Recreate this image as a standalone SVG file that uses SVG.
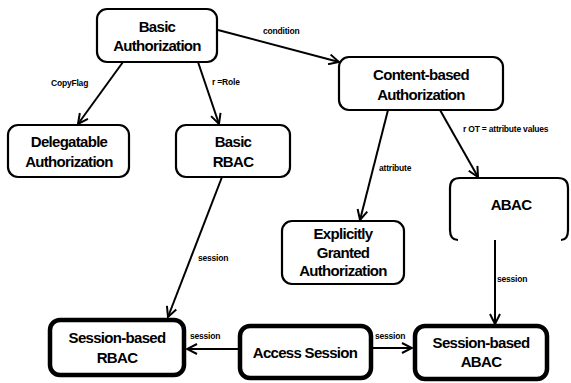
<svg xmlns="http://www.w3.org/2000/svg" width="571" height="383" viewBox="0 0 571 383">
<style>
.box{fill:#fff;stroke:#000;stroke-width:2.2}
.thick{fill:#fff;stroke:#000;stroke-width:4.5}
.t{font-family:"Liberation Sans",Arial,sans-serif;font-weight:bold;font-size:15px;letter-spacing:-0.7px;text-anchor:middle;fill:#000}
.l{font-family:"Liberation Sans",Arial,sans-serif;font-weight:bold;font-size:8.5px;letter-spacing:-0.2px;fill:#000}
.e{stroke:#000;stroke-width:2;fill:none;marker-end:url(#a)}
</style>
<defs>
<marker id="a" viewBox="0 0 12 12" refX="11" refY="6" markerWidth="12" markerHeight="12" markerUnits="userSpaceOnUse" orient="auto">
<path d="M1,1 L11,6 L1,11" fill="none" stroke="#000" stroke-width="2"/>
</marker>
</defs>
<g id="connectors">
<line class="e" x1="123" y1="62" x2="78" y2="124"/>
<line class="e" x1="198" y1="62" x2="219" y2="124"/>
<line class="e" x1="218" y1="30" x2="339" y2="62"/>
<line class="e" x1="388" y1="110" x2="360" y2="220"/>
<line class="e" x1="440" y1="110" x2="478" y2="177"/>
<line class="e" x1="222" y1="177" x2="168" y2="317"/>
<line class="e" x1="495" y1="240" x2="495" y2="324"/>
<line class="e" x1="238" y1="349" x2="187" y2="349"/>
<line class="e" x1="373" y1="348" x2="412" y2="348"/>
<text class="l" x="263" y="34">condition</text>
<text class="l" x="51" y="86">CopyFlag</text>
<text class="l" x="212" y="85">r =Role</text>
<text class="l" x="379" y="171">attribute</text>
<text class="l" x="463" y="132">r  OT  = attribute values</text>
<text class="l" x="198" y="261">session</text>
<text class="l" x="497" y="282">session</text>
<text class="l" x="190" y="339">session</text>
<text class="l" x="375" y="339">session</text>
</g>
<g id="basic-authorization">
<rect class="box" x="97" y="9" width="120" height="53" rx="10"/>
<text class="t" x="157" y="32">Basic</text>
<text class="t" x="157" y="51">Authorization</text>
</g>
<g id="delegatable-authorization">
<rect class="box" x="8" y="125" width="121" height="52" rx="10"/>
<text class="t" x="69" y="147">Delegatable</text>
<text class="t" x="69" y="167">Authorization</text>
</g>
<g id="basic-rbac">
<rect class="box" x="176" y="125" width="114" height="52" rx="10"/>
<text class="t" x="233" y="147">Basic</text>
<text class="t" x="233" y="167">RBAC</text>
</g>
<g id="content-based-authorization">
<rect class="box" x="339" y="57" width="164" height="53" rx="10"/>
<text class="t" x="421" y="80">Content-based</text>
<text class="t" x="421" y="100">Authorization</text>
</g>
<g id="abac">
<path class="box" d="M450,230 V188 Q450,178 460,178 H558 Q568,178 568,188 V230 M450,230 Q450,240 458,240 M568,230 Q568,240 561,240"/>
<text class="t" x="511" y="210">ABAC</text>
</g>
<g id="explicitly-granted-authorization">
<rect class="box" x="282" y="221" width="122" height="63" rx="10"/>
<text class="t" x="343" y="239">Explicitly</text>
<text class="t" x="343" y="258">Granted</text>
<text class="t" x="343" y="276">Authorization</text>
</g>
<g id="session-based-rbac">
<rect class="thick" x="50" y="320" width="134" height="55" rx="10"/>
<text class="t" x="117" y="343">Session-based</text>
<text class="t" x="117" y="363">RBAC</text>
</g>
<g id="access-session">
<rect class="thick" x="240" y="326" width="131" height="52" rx="10"/>
<text class="t" x="305" y="358">Access Session</text>
</g>
<g id="session-based-abac">
<rect class="thick" x="415" y="326" width="132" height="53" rx="10"/>
<text class="t" x="481" y="348">Session-based</text>
<text class="t" x="481" y="367">ABAC</text>
</g>
</svg>
